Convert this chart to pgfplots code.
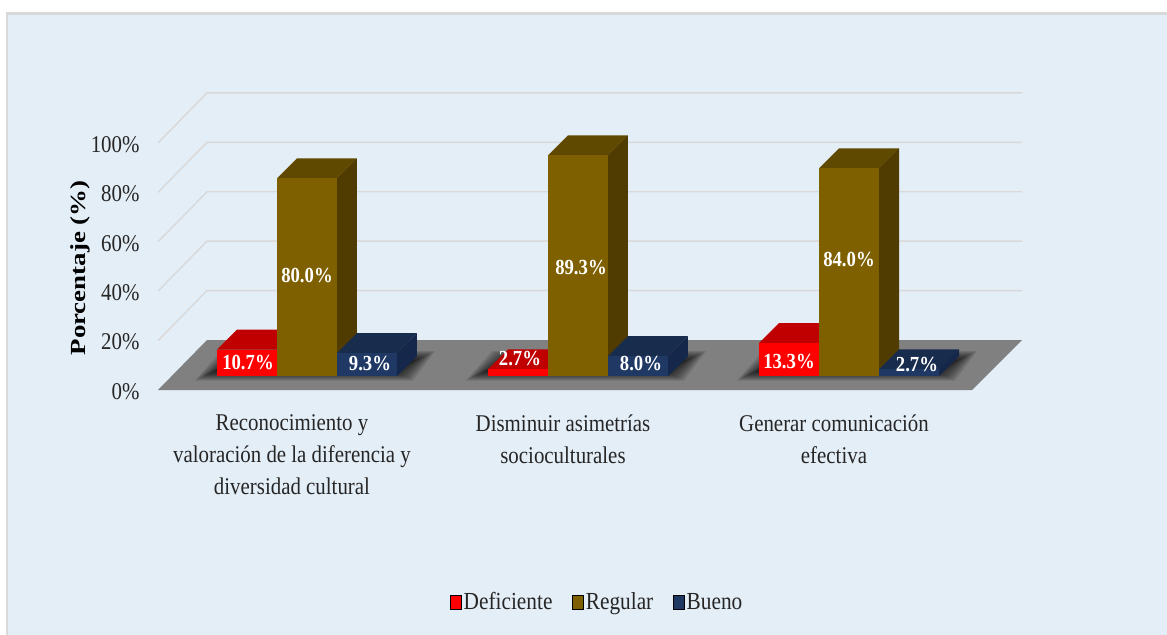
\documentclass[border=0pt]{standalone}
\usepackage{pgfplots}
\usepackage{fontspec}
\pgfplotsset{compat=1.18}
\setmainfont[FakeStretch=0.87]{Liberation Serif}
\newfontfamily\ylfont[FakeStretch=1.25]{Liberation Serif}
\definecolor{bgblue}{HTML}{E4EEF7}
\definecolor{edge}{HTML}{D9D9D9}
\definecolor{floorg}{HTML}{808080}
\definecolor{rF}{HTML}{FF0000}\definecolor{rT}{HTML}{C00000}
\definecolor{bF}{HTML}{7F6000}\definecolor{bT}{HTML}{5F4800}\definecolor{bS}{HTML}{503C00}
\definecolor{nF}{HTML}{1F3864}\definecolor{nT}{HTML}{182C4E}\definecolor{nS}{HTML}{15274A}
\newcommand\X[2]{\pgfmathsetmacro#1{(#2-307)/271+1}}
\newcommand\Y[2]{\pgfmathsetmacro#1{(390-#2)/2.4709}}
% polygon given in picture pixels
\newcommand\pxpoly[9]{%
  \X\ax{#2}\Y\ay{#3}\X\bx{#4}\Y\by{#5}\X\cx{#6}\Y\cy{#7}\X\dx{#8}\Y\dy{#9}%
  \edef\temp{\noexpand\addplot[#1,draw=none,forget plot] coordinates {(\ax,\ay)(\bx,\by)(\cx,\cy)(\dx,\dy)} --cycle;}\temp}
% 3-D bar: left edge, value, three colours
\newcommand\tdbar[5]{%
  \pgfmathsetmacro\xa{#1}\pgfmathsetmacro\xb{#1+0.2214}%
  \pgfmathsetmacro\xc{#1+0.0738}\pgfmathsetmacro\xd{#1+0.2952}%
  \pgfmathsetmacro\yb{5.666}\pgfmathsetmacro\yc{13.76}%
  \pgfmathsetmacro\yt{#2+5.666}\pgfmathsetmacro\yu{#2+13.76}%
  \edef\temp{%
  \noexpand\addplot[fill=#4,draw=none,forget plot] coordinates {(\xa,\yt)(\xb,\yt)(\xd,\yu)(\xc,\yu)} --cycle;
  \noexpand\addplot[fill=#5,draw=none,forget plot] coordinates {(\xb,\yb)(\xd,\yc)(\xd,\yu)(\xb,\yt)} --cycle;
  \noexpand\addplot[fill=#3,draw=none,forget plot] coordinates {(\xa,\yb)(\xb,\yb)(\xb,\yt)(\xa,\yt)} --cycle;}\temp}
\newcommand\vlabel[3]{\X\lx{#1}\Y\ly{#2}%
  \edef\temp{\noexpand\addplot[draw=none,mark=none,forget plot,nodes near coords={#3\noexpand\%},
   nodes near coords style={anchor=center,text=white,inner sep=0pt,font=\noexpand\bfseries\noexpand\fontsize{21.5bp}{23bp}\noexpand\selectfont}] coordinates {(\lx,\ly)};}\temp}
% soft shadow of one group on the floor
\newcommand\shadow[2]{%
  \foreach \i in {0,...,10}{%
    \pgfmathsetmacro\s{\i*1.9}%
    \pgfmathsetmacro\pa{#1-22+\s}\pgfmathsetmacro\pb{#2+16-\s}\pgfmathsetmacro\pc{#2+38-\s}\pgfmathsetmacro\pd{#1+4+\s}%
    \pgfmathsetmacro\qa{380.5-\s*0.5}\pgfmathsetmacro\qb{351+\s*0.5}%
    \pxpoly{fill=black,fill opacity=0.10}{\pa}{\qa}{\pb}{\qa}{\pc}{\qb}{\pd}{\qb}%
  }}
\begin{document}
\begin{tikzpicture}
\fill[white] (0bp,0bp) rectangle (1167bp,-635bp);
\fill[edge] (6bp,-12bp) rectangle (1167bp,-635bp);
\fill[bgblue] (8bp,-14.5bp) rectangle (1167bp,-635bp);
\begin{axis}[
  at={(158bp,-390bp)},anchor=south west,
  scale only axis,width=864bp,height=297bp,
  xmin=0.4502,xmax=3.6384,ymin=0,ymax=120.2,
  clip=false,
  axis line style={draw=none},
  major tick length=0pt,
  xtick={0.9446,1.9446,2.9446},
  xticklabels={{Reconocimiento y\\valoración de la diferencia y\\diversidad cultural},
               {Disminuir asimetrías\\socioculturales},
               {Generar comunicación\\efectiva}},
  x tick label style={align=center,anchor=north,yshift=-21bp,
     font=\fontsize{24bp}{32bp}\selectfont,text=black!85},
  ytick={0,20,40,60,80,100},
  yticklabels={0\%,20\%,40\%,60\%,80\%,100\%},
  y tick label style={anchor=east,xshift=-15bp,yshift=-1.5bp,font=\fontsize{24bp}{26bp}\selectfont,text=black!85},
  every axis y label/.style={at={(axis description cs:-0.0903,0.411)},rotate=90,anchor=center},
  ylabel={\ylfont\bfseries\fontsize{21.5bp}{23bp}\selectfont Porcentaje (\%)},
  legend style={at={(axis description cs:0.5085,-0.7135)},anchor=center,draw=none,fill=none,
     font=\fontsize{24.5bp}{26bp}\selectfont,text=black!85,inner sep=0pt,
     /tikz/every even column/.append style={column sep=18bp}},
  legend columns=3,
  legend image code/.code={\fill[#1] (-1.5bp,-7bp) rectangle (9.5bp,7bp);},
]
% wall grid lines
\foreach \v in {20,40,60,80,100}{%
  \pgfmathsetmacro\gu{\v+20.23}%
  \edef\temp{\noexpand\addplot[edge,line width=1.4bp,forget plot] coordinates {(0.4502,\v)(0.6310,\gu)(3.6384,\gu)};}\temp}
% floor
\pxpoly{fill=floorg}{158}{390}{972}{390}{1022}{340}{207}{340}
\shadow{217}{397}
\shadow{488}{668}
\shadow{759}{939}
% Deficiente, Regular, Bueno
\tdbar{0.6679}{10.7}{rF}{rT}{rT}
\tdbar{0.8893}{80.0}{bF}{bT}{bS}
\tdbar{1.1107}{9.3}{nF}{nT}{nS}
\tdbar{1.6679}{2.7}{rF}{rT}{rT}
\tdbar{1.8893}{89.3}{bF}{bT}{bS}
\tdbar{2.1107}{8.0}{nF}{nT}{nS}
\tdbar{2.6679}{13.3}{rF}{rT}{rT}
\tdbar{2.8893}{84.0}{bF}{bT}{bS}
\tdbar{3.1107}{2.7}{nF}{nT}{nS}
\vlabel{248}{362}{10.7}
\vlabel{307}{275}{80.0}
\vlabel{370}{363}{9.3}
\vlabel{520}{358}{2.7}
\vlabel{581}{267}{89.3}
\vlabel{641}{363}{8.0}
\vlabel{789}{361}{13.3}
\vlabel{849}{259}{84.0}
\vlabel{917}{364}{2.7}
\addlegendimage{fill=rF}\addlegendentry{Deficiente}
\addlegendimage{fill=bF}\addlegendentry{Regular}
\addlegendimage{fill=nF}\addlegendentry{Bueno}
\end{axis}
\end{tikzpicture}
\end{document}
